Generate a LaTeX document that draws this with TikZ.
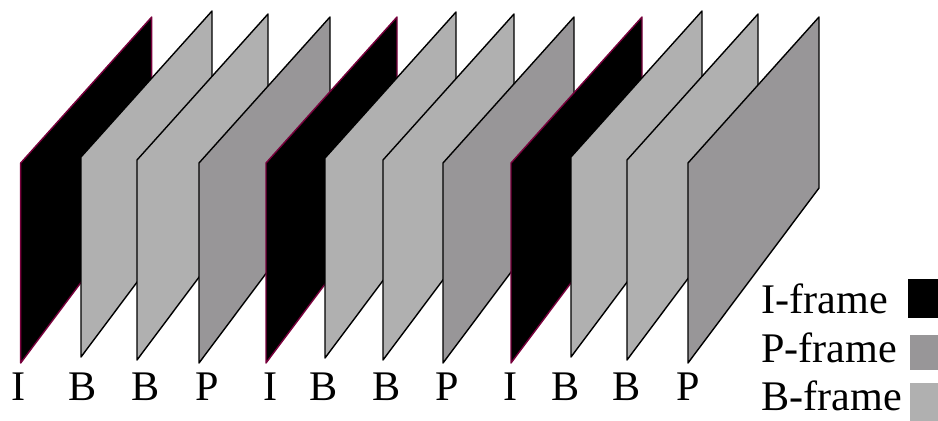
\documentclass[tikz,border=0pt]{standalone}
\usepackage{fontspec}
\setmainfont{Liberation Serif}
\definecolor{pgray}{RGB}{152,150,152}
\definecolor{bgray}{RGB}{176,176,176}
\definecolor{iedge}{RGB}{120,0,60}
\tikzset{
  frameI/.style={fill=black, draw=iedge, line width=0.8pt},
  frameP/.style={fill=pgray, draw=black, line width=0.8pt},
  frameB/.style={fill=bgray, draw=black, line width=0.8pt},
  lbl/.style={font=\fontsize{24}{28}\selectfont, anchor=base, inner sep=0pt},
}
\begin{document}
\begin{tikzpicture}[x=0.02cm, y=-0.02cm, line join=round]
  \useasboundingbox (0,0) rectangle (938,420);

  % Frames, back to front, with their letters
  \foreach \fx/\ft/\lx/\kind [count=\n] in {20.7/163/18.5/I, 81/157/83/B, 137/160/146/B, 199/163/207/P,
      266/163/271/I, 325/158/324/B, 383/160/387/B, 443/163/447/P,
      511/163/511/I, 571/157/566/B, 627/160/627/B, 688/163/688/P}{
    \draw[frame\kind] (\fx,\ft+200) -- (\fx,\ft) -- (\fx+131,\ft-146) -- (\fx+131,\ft+25) -- cycle;
    \node[lbl] (lab\n) at (\lx,400) {\kind};
  }

  % Legend
  \node[lbl, anchor=base west] (keyI) at (761,313) {I-frame};
  \node[lbl, anchor=base west] (keyP) at (761,362) {P-frame};
  \node[lbl, anchor=base west] (keyB) at (761,410) {B-frame};
  \fill[black] (908,279) rectangle (940,318);
  \fill[pgray] (910,335) rectangle (940,370);
  \fill[bgray] (910,383) rectangle (940,422);
\end{tikzpicture}
\end{document}
